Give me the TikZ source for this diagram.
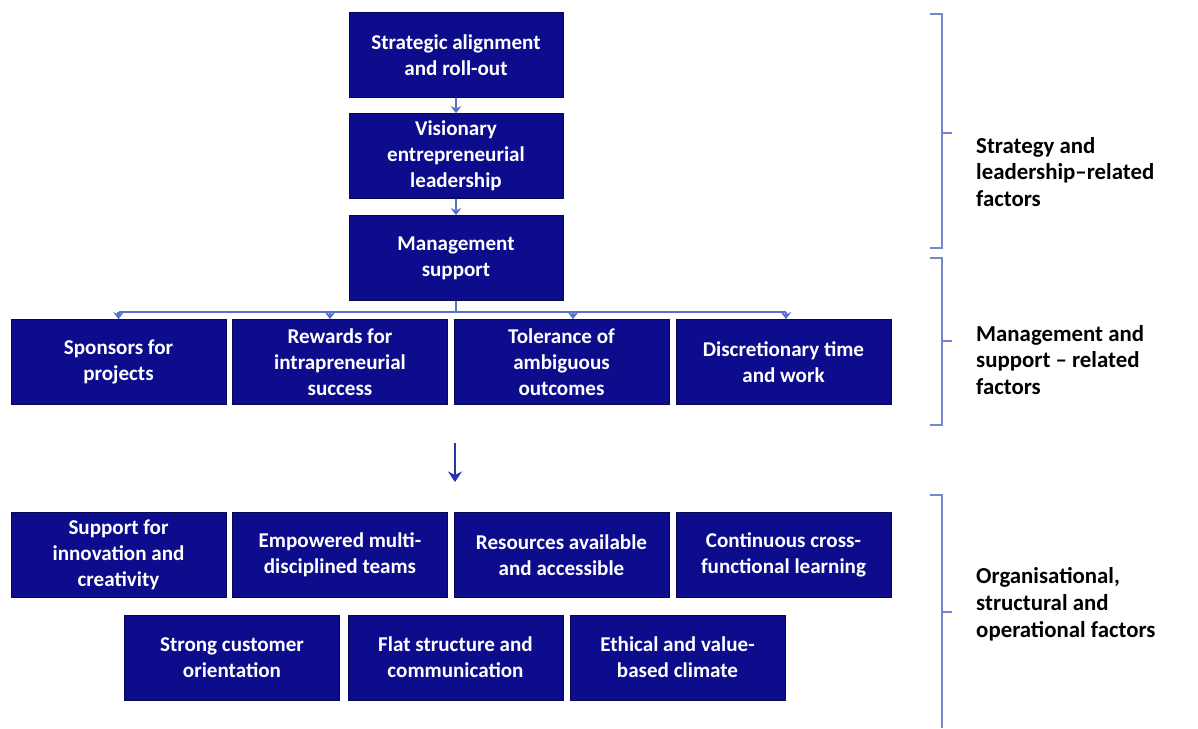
\documentclass[tikz,border=0pt]{standalone}
\usepackage{fontspec}
\setmainfont{Carlito}
\usetikzlibrary{positioning,arrows.meta}
\definecolor{boxblue}{RGB}{12,12,140}
\definecolor{linkblue}{RGB}{85,115,200}
\definecolor{bracketblue}{RGB}{115,135,205}
\definecolor{flowblue}{RGB}{35,55,170}

\begin{document}
\begin{tikzpicture}[x = 0.02cm, y = -0.02cm,
  factor/.style = {draw = boxblue!60!black, fill = boxblue, text = white, align = center,
    font = \bfseries\fontsize{12}{14.8}\selectfont, minimum width = 4.3cm, minimum height = 1.7cm, inner sep = 2pt},
  link/.style = {draw = linkblue, line width = 1.2pt},
  linkarrow/.style = {link, -{Stealth[length = 4pt, width = 6pt]}},
  bracket/.style = {draw = bracketblue, line width = 0.8pt},
  sidetext/.style = {anchor = west, align = left, font = \bfseries\fontsize{13}{15.3}\selectfont}]

\useasboundingbox (0, 0) rectangle (1198, 728);

% strategy and leadership
\node[factor, minimum width = 4.28cm] (align) at (456, 55) {Strategic alignment\\and roll-out};
\node[factor, minimum width = 4.28cm] (vision) at (456, 156) {Visionary\\entrepreneurial\\leadership};
\node[factor, minimum width = 4.28cm] (mgmt) at (456, 258) {Management\\support};
\draw[linkarrow] (align) -- (vision);
\draw[linkarrow] (vision) -- (mgmt);

% management and support
\node[factor] (sponsor) at (118.5, 362) {Sponsors for\\projects};
\node[factor] (reward) at (340, 362) {Rewards for\\intrapreneurial\\success};
\node[factor] (tolerance) at (561.5, 362) {Tolerance of\\ambiguous\\outcomes};
\node[factor] (discr) at (783.5, 362) {Discretionary time\\and work};

\coordinate (bus) at (0, 312);
\draw[link] (mgmt.south) -- (mgmt.south |- bus);
\draw[link] (sponsor.north |- bus) -- ([xshift = 0.05cm]discr.north |- bus);
\draw[linkarrow] (sponsor.north |- bus) -- (sponsor.north);
\draw[linkarrow] ([xshift = -0.2cm]reward.north |- bus) -- ([xshift = -0.2cm]reward.north);
\draw[linkarrow] ([xshift = 0.23cm]tolerance.north |- bus) -- ([xshift = 0.23cm]tolerance.north);
\draw[linkarrow] ([xshift = 0.05cm]discr.north |- bus) -- ([xshift = 0.05cm]discr.north);

% link between the groups
\coordinate (flowtop) at (455, 443);
\coordinate (flowend) at (455, 482);
\draw[draw = flowblue, line width = 1.4pt, -{Stealth[length = 6pt, width = 8pt]}] (flowtop) -- (flowend);

% organisational, structural and operational
\node[factor] (innov) at (118.5, 555) {Support for\\innovation and\\creativity};
\node[factor] (teams) at (340, 555) {Empowered multi-\\disciplined teams};
\node[factor] (resources) at (561.5, 555) {Resources available\\and accessible};
\node[factor] (learning) at (783.5, 555) {Continuous cross-\\functional learning};
\node[factor] (customer) at (232, 657.5) {Strong customer\\orientation};
\node[factor] (flat) at (455.5, 657.5) {Flat structure and\\communication};
\node[factor] (ethics) at (677.5, 657.5) {Ethical and value-\\based climate};

% brackets
\draw[bracket] (930, 14) -- (942, 14) -- (942, 248) -- (930, 248);
\draw[bracket] (942, 133) -- (952, 133);
\draw[bracket] (930, 258) -- (942, 258) -- (942, 425) -- (930, 425);
\draw[bracket] (942, 341) -- (952, 341);
\draw[bracket] (930, 495) -- (942, 495) -- (942, 728);
\draw[bracket] (942, 612) -- (952, 612);

\node[sidetext] (stratlab) at (970, 172) {Strategy and\\leadership–related\\factors};
\node[sidetext] (mgmtlab) at (970, 360) {Management and\\support – related\\factors};
\node[sidetext] (orglab) at (970, 604) {Organisational,\\structural and\\operational factors};
\end{tikzpicture}
\end{document}
